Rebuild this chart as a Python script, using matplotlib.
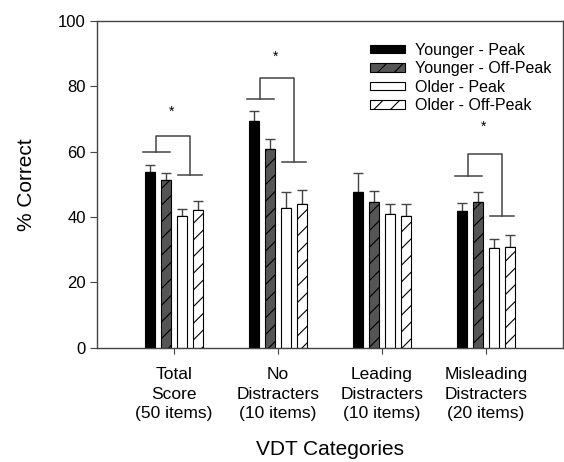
import matplotlib
matplotlib.use('Agg')
import matplotlib.pyplot as plt
import numpy as np

plt.rcParams['font.family'] = ['Liberation Sans', 'DejaVu Sans']
plt.rcParams['hatch.linewidth'] = 0.8

categories = ['Total\nScore\n(50 items)', 'No\nDistracters\n(10 items)',
              'Leading\nDistracters\n(10 items)', 'Misleading\nDistracters\n(20 items)']
series = ['Younger - Peak', 'Younger - Off-Peak', 'Older - Peak', 'Older - Off-Peak']

younger_peak = [53.7, 69.3, 47.8, 42.0]
younger_offpeak = [51.4, 60.8, 44.6, 44.6]
older_peak = [40.2, 42.7, 40.8, 30.6]
older_offpeak = [42.1, 44.1, 40.2, 30.9]

younger_peak_err = [2.3, 3.0, 5.7, 2.3]
younger_offpeak_err = [2.0, 3.2, 3.5, 3.2]
older_peak_err = [2.3, 5.1, 3.3, 2.7]
older_offpeak_err = [2.9, 4.2, 3.9, 3.7]

# significance brackets: (category index, left line y, top y, right line y, star y)
brackets = [(0, 60.0, 64.9, 53.0, 72.1),
            (1, 76.1, 82.4, 56.8, 88.9),
            (3, 52.4, 59.4, 40.2, 67.5)]

values = [younger_peak, younger_offpeak, older_peak, older_offpeak]
errors = [younger_peak_err, younger_offpeak_err, older_peak_err, older_offpeak_err]
colors = ['black', '#555555', 'white', 'white']
hatches = [None, '//', None, '//']

line_col = '#444444'

fig = plt.figure(figsize=(5.64, 4.62), dpi=100)
ax = fig.add_axes([0.172, 0.247, 0.826, 0.708])

x = np.arange(len(categories))
pitch = 0.152
width = 0.097
for i in range(4):
    pos = x + (i - 1.5) * pitch
    ax.bar(pos, values[i], width, color=colors[i], edgecolor='black', hatch=hatches[i],
           linewidth=0.8, label=series[i], zorder=2)
    ax.errorbar(pos, values[i], yerr=[np.zeros(4), errors[i]], fmt='none', ecolor=line_col,
                elinewidth=1, capsize=3.5, capthick=1, zorder=1)

for c, yl, yt, yr, ys in brackets:
    kw = dict(color=line_col, lw=1.1)
    ax.plot([c - 0.295, c - 0.04], [yl, yl], **kw)
    ax.plot([c - 0.17, c - 0.17, c + 0.153, c + 0.153], [yl, yt, yt, yr], **kw)
    ax.plot([c + 0.035, c + 0.27], [yr, yr], **kw)
    ax.text(c - 0.02, ys, '*', ha='center', va='center', fontsize=10)

ax.set_xlim(-0.74, 3.74)
ax.set_ylim(0, 100)
ax.set_yticks([0, 20, 40, 60, 80, 100])
ax.set_xticks(x)
ax.set_xticklabels(categories, fontsize=12.5, linespacing=1.35)
ax.tick_params(axis='y', labelsize=12, length=5, color=line_col, pad=3)
ax.tick_params(axis='x', length=4, color=line_col, pad=10)
for s in ax.spines.values():
    s.set_color(line_col)
    s.set_linewidth(1)

ax.set_ylabel('% Correct', fontsize=15, labelpad=16)
ax.set_xlabel('VDT Categories', fontsize=15, labelpad=14)

ax.legend(loc='upper left', bbox_to_anchor=(0.586, 0.933), frameon=False, fontsize=11.5,
          handlelength=2.2, handleheight=0.45, labelspacing=0.22, handletextpad=0.6,
          borderpad=0, borderaxespad=0)

fig.savefig('out.png', dpi=100)
